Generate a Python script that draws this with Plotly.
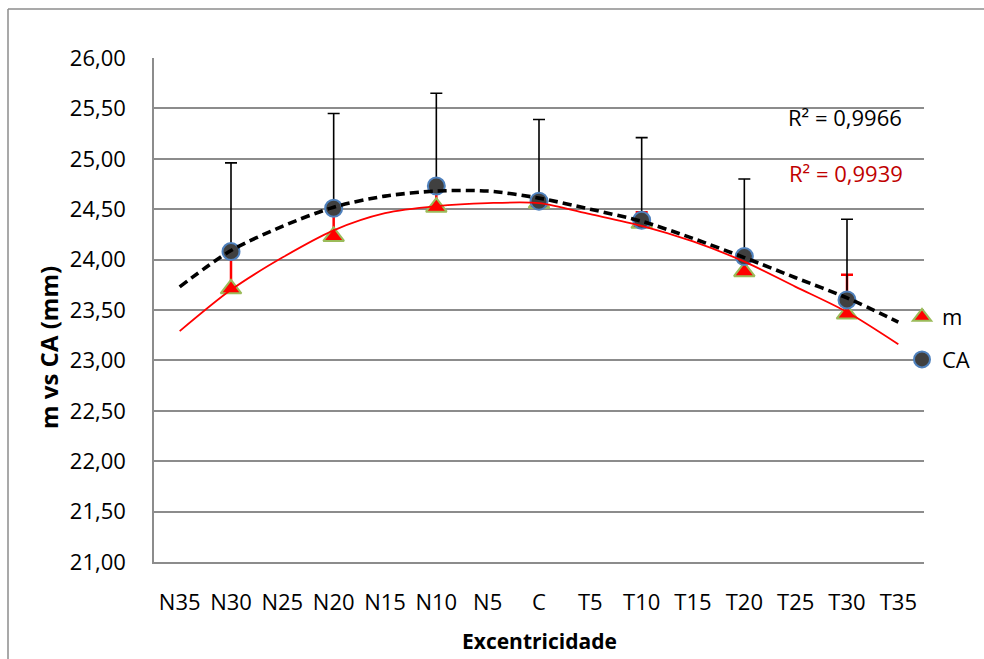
import plotly.graph_objects as go

# ---- data ----
categories = ["N35", "N30", "N25", "N20", "N15", "N10", "N5", "C",
              "T5", "T10", "T15", "T20", "T25", "T30", "T35"]
point_cats = ["N30", "N20", "N10", "C", "T10", "T20", "T30"]

m_values = [23.71, 24.23, 24.52, 24.56, 24.36, 23.88, 23.46]
m_err_plus = [0.38, 0.33, 0.18, 0.06, 0.11, 0.12, 0.39]

ca_values = [24.08, 24.51, 24.73, 24.58, 24.39, 24.03, 23.60]
ca_err_plus = [0.88, 0.94, 0.92, 0.81, 0.82, 0.77, 0.80]

# polynomial trendlines as drawn (read at each category)
trend_m = [23.29, 23.70, 24.02, 24.29, 24.46, 24.53, 24.56, 24.56,
           24.45, 24.335, 24.18, 23.98, 23.73, 23.48, 23.16]
trend_ca = [23.73, 24.09, 24.33, 24.52, 24.63, 24.68, 24.68, 24.61,
            24.50, 24.38, 24.21, 24.02, 23.82, 23.62, 23.38]

r2_ca = "R² = 0,9966"
r2_m = "R² = 0,9939"

y_min, y_max, y_step = 21.0, 26.0, 0.5

FONT = "Open Sans"

fig = go.Figure()

fig.add_trace(go.Scatter(
    x=point_cats, y=m_values, mode="markers", name="m", legendgroup="m",
    marker=dict(symbol="triangle-up", size=18, color="#FF0000",
                line=dict(color="#9BBB59", width=2)),
    error_y=dict(type="data", symmetric=False, array=m_err_plus,
                 arrayminus=[0] * len(m_err_plus),
                 color="#FF0000", thickness=2.5, width=6),
))

fig.add_trace(go.Scatter(
    x=point_cats, y=ca_values, mode="markers", name="CA", legendgroup="CA",
    marker=dict(symbol="circle", size=17, color="#404040",
                line=dict(color="#4F81BD", width=2)),
    error_y=dict(type="data", symmetric=False, array=ca_err_plus,
                 arrayminus=[0] * len(ca_err_plus),
                 color="#000000", thickness=1.6, width=6),
))

fig.add_trace(go.Scatter(
    x=categories, y=trend_m, mode="lines", showlegend=False,
    line=dict(color="#FF0000", width=1.8, shape="spline", smoothing=0.8),
    hoverinfo="skip",
))

fig.add_trace(go.Scatter(
    x=categories, y=trend_ca, mode="lines", showlegend=False,
    line=dict(color="#000000", width=3.6, dash="9px,5px",
              shape="spline", smoothing=0.8),
    hoverinfo="skip",
))

L, R, T, B = 154, 60, 58, 97
W, H = 984, 659
pw, ph = W - L - R, H - T - B


def px_x(x):
    return (x - L) / pw


def px_y(y):
    return (H - B - y) / ph


fig.update_layout(
    width=W, height=H,
    margin=dict(l=L, r=R, t=T, b=B, autoexpand=False),
    paper_bgcolor="white", plot_bgcolor="white",
    separators=", ",
    font=dict(family=FONT, size=22, color="#000000"),
    showlegend=True,
    legend=dict(
        x=px_x(902), y=px_y(296), xanchor="left", yanchor="top",
        bgcolor="rgba(0,0,0,0)", font=dict(family=FONT, size=22),
        tracegroupgap=11, itemwidth=30,
    ),
    xaxis=dict(
        type="category", categoryorder="array", categoryarray=categories,
        range=[-0.5, len(categories) - 0.5],
        showgrid=False, zeroline=False,
        showline=True, linecolor="#8C8C8C", linewidth=1.8,
        ticks="", ticklabelstandoff=20,
        tickfont=dict(family=FONT, size=22),
    ),
    yaxis=dict(
        range=[y_min, y_max], tick0=y_min, dtick=y_step, tickformat=".2f",
        showgrid=True, gridcolor="#8C8C8C", gridwidth=1.7,
        zeroline=False, showline=True, linecolor="#8C8C8C", linewidth=1.5,
        ticks="", ticklabelstandoff=22,
        tickfont=dict(family=FONT, size=22),
    ),
    annotations=[
        dict(text="<b>m vs CA (mm)</b>", xref="paper", yref="paper",
             x=px_x(48), y=px_y(348), textangle=-90, showarrow=False,
             xanchor="center", yanchor="middle",
             font=dict(family=FONT, size=24, color="#000000")),
        dict(text="<b>Excentricidade</b>", xref="paper", yref="paper",
             x=0.5, y=px_y(641), showarrow=False,
             xanchor="center", yanchor="middle",
             font=dict(family=FONT, size=21, color="#000000")),
        dict(text=r2_ca, xref="paper", yref="paper",
             x=px_x(845), y=px_y(117), showarrow=False,
             xanchor="center", yanchor="middle",
             font=dict(family=FONT, size=22, color="#000000")),
        dict(text=r2_m, xref="paper", yref="paper",
             x=px_x(846), y=px_y(173), showarrow=False,
             xanchor="center", yanchor="middle",
             font=dict(family=FONT, size=22, color="#C00000")),
    ],
    shapes=[
        dict(type="line", xref="paper", yref="paper",
             x0=px_x(8), x1=px_x(8), y0=px_y(700), y1=px_y(9),
             line=dict(color="#8C8C8C", width=1.5), layer="below"),
        dict(type="line", xref="paper", yref="paper",
             x0=px_x(8), x1=px_x(1100), y0=px_y(9), y1=px_y(9),
             line=dict(color="#8C8C8C", width=1.5), layer="below"),
    ],
)

fig.write_html("out.html")
